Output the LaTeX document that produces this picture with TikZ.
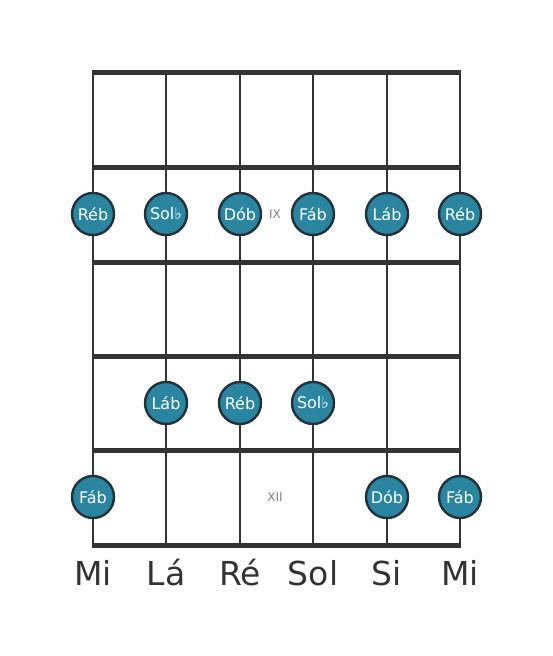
\documentclass[tikz,border=0pt]{standalone}
\usepackage{fontspec}
\setmainfont{DejaVu Sans}
\definecolor{wire}{HTML}{333333}
\definecolor{dotfill}{HTML}{2A86A0}
\definecolor{dotline}{HTML}{22313A}
\tikzset{
  fret/.style={draw=wire, line width=5pt},
  wirestring/.style={draw=wire, line width=2.6pt},
  note/.style={circle, draw=dotline, fill=dotfill, line width=2.4pt,
    minimum size=42pt, inner sep=0pt, text=white,
    font=\fontsize{16}{16}\selectfont},
  roman/.style={text=gray, font=\fontsize{12}{12}\selectfont},
  tuning/.style={text=wire, font=\fontsize{33}{36}\selectfont}
}
\begin{document}
\begin{tikzpicture}[x=1pt, y=-1pt]
    \useasboundingbox (0,0) rectangle (553,656);
    % string ends
    \coordinate (S1t) at (93, 72);  \coordinate (S1b) at (93, 545);
    \coordinate (S2t) at (166, 72); \coordinate (S2b) at (166, 545);
    \coordinate (S3t) at (240, 72); \coordinate (S3b) at (240, 545);
    \coordinate (S4t) at (313, 72); \coordinate (S4b) at (313, 545);
    \coordinate (S5t) at (387, 72); \coordinate (S5b) at (387, 545);
    \coordinate (S6t) at (460, 72); \coordinate (S6b) at (460, 545);
    \draw [wirestring] (S1t) to (S1b);
    \draw [wirestring] (S2t) to (S2b);
    \draw [wirestring] (S3t) to (S3b);
    \draw [wirestring] (S4t) to (S4b);
    \draw [wirestring] (S5t) to (S5b);
    \draw [wirestring] (S6t) to (S6b);
    % frets
    \draw [fret] (91.7, 72) to (461.3, 72);
    \draw [fret] (91.7, 167) to (461.3, 167);
    \draw [fret] (91.7, 262) to (461.3, 262);
    \draw [fret] (91.7, 356) to (461.3, 356);
    \draw [fret] (91.7, 450) to (461.3, 450);
    \draw [fret] (91.7, 545) to (461.3, 545);
    % fret numbers
    \node [roman] (IX) at (275, 214) {IX};
    \node [roman] (XII) at (275, 497) {XII};
    % notes
    \node [note] (A1) at (93, 214) {Réb};
    \node [note] (A2) at (166, 214) {Sol♭};
    \node [note] (A3) at (240, 214) {Dób};
    \node [note] (A4) at (313, 214) {Fáb};
    \node [note] (A5) at (387, 214) {Láb};
    \node [note] (A6) at (460, 214) {Réb};
    \node [note] (B2) at (166, 403) {Láb};
    \node [note] (B3) at (240, 403) {Réb};
    \node [note] (B4) at (313, 403) {Sol♭};
    \node [note] (C1) at (93, 497) {Fáb};
    \node [note] (C5) at (387, 497) {Dób};
    \node [note] (C6) at (460, 497) {Fáb};
    % tuning
    \node [tuning] (T1) at (93, 573) {Mi};
    \node [tuning] (T2) at (166, 573) {Lá};
    \node [tuning] (T3) at (240, 573) {Ré};
    \node [tuning] (T4) at (313, 573) {Sol};
    \node [tuning] (T5) at (387, 573) {Si};
    \node [tuning] (T6) at (460, 573) {Mi};
  \end{tikzpicture}
\end{document}
